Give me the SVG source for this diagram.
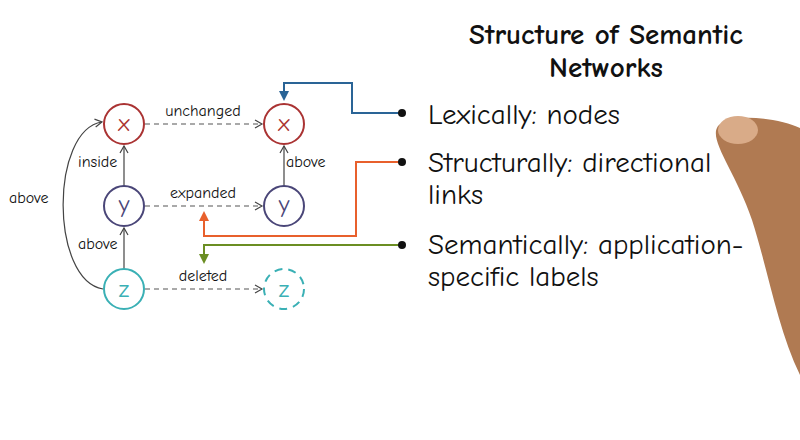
<svg xmlns="http://www.w3.org/2000/svg" width="800" height="440" viewBox="0 0 800 440">
<style>
text{font-family:"Comic Neue","Liberation Sans",sans-serif;fill:#111}
.lbl{font-size:16px}
.big{font-size:29px}
.dash{stroke:#555;stroke-width:1.2;stroke-dasharray:5,4;fill:none}
.solid{stroke:#444;stroke-width:1.2;fill:none}
.node text{font-size:24px;text-anchor:middle}
</style>
<defs>
<marker id="a" markerWidth="10" markerHeight="10" refX="8" refY="5" orient="auto" markerUnits="userSpaceOnUse"><path d="M1,1 L8,5 L1,9" fill="none" stroke="#444" stroke-width="1.2"/></marker>
<marker id="ab" markerWidth="10" markerHeight="10" refX="6" refY="5" orient="auto" markerUnits="userSpaceOnUse"><path d="M0,0 L10,5 L0,10 Z" fill="#2a6496"/></marker>
<marker id="ao" markerWidth="10" markerHeight="10" refX="6" refY="5" orient="auto" markerUnits="userSpaceOnUse"><path d="M0,0 L10,5 L0,10 Z" fill="#e8602c"/></marker>
<marker id="ag" markerWidth="10" markerHeight="10" refX="6" refY="5" orient="auto" markerUnits="userSpaceOnUse"><path d="M0,0 L10,5 L0,10 Z" fill="#6b8e23"/></marker>
</defs>
<rect width="800" height="440" fill="#fff"/>
<path d="M800,128 C780,118 730,112 718,126 C708,140 735,170 752,220 C768,270 778,330 800,375 Z" fill="#b07a52"/>
<ellipse cx="738" cy="130" rx="20" ry="14" fill="#d9ab88"/>
<g id="connectors">
<path class="dash" d="M145,124 H262" marker-end="url(#a)"/>
<path class="dash" d="M145,206 H262" marker-end="url(#a)"/>
<path class="dash" d="M145,289 H262" marker-end="url(#a)"/>
<path class="solid" d="M124,186 V146" marker-end="url(#a)"/>
<path class="solid" d="M124,269 V228" marker-end="url(#a)"/>
<path class="solid" d="M284,186 V146" marker-end="url(#a)"/>
<path class="solid" d="M103,289 C50,280 50,130 102,122" marker-end="url(#a)"/>
<text class="lbl" x="203" y="116" text-anchor="middle">unchanged</text>
<text class="lbl" x="203" y="198" text-anchor="middle">expanded</text>
<text class="lbl" x="203" y="281" text-anchor="middle">deleted</text>
<text class="lbl" x="78" y="167">inside</text>
<text class="lbl" x="78" y="249">above</text>
<text class="lbl" x="286" y="167">above</text>
<text class="lbl" x="9" y="203">above</text>
<path d="M402,113 H352 V83 H284 V97" fill="none" stroke="#2a6496" stroke-width="2" marker-end="url(#ab)"/>
<path d="M402,162 H356 V236 H204 V215" fill="none" stroke="#e8602c" stroke-width="2" marker-end="url(#ao)"/>
<path d="M402,245 H204 V260" fill="none" stroke="#6b8e23" stroke-width="2" marker-end="url(#ag)"/>
</g>
<g id="x1" class="node"><circle cx="124" cy="124" r="20" fill="none" stroke="#a33" stroke-width="2"/><text x="124" y="131" style="fill:#a33">x</text></g>
<g id="y1" class="node"><circle cx="124" cy="206" r="20" fill="none" stroke="#4a4678" stroke-width="2"/><text x="124" y="212" style="fill:#4a4678">y</text></g>
<g id="z1" class="node"><circle cx="124" cy="289" r="20" fill="none" stroke="#3ab0b5" stroke-width="2"/><text x="124" y="297" style="fill:#3ab0b5">z</text></g>
<g id="x2" class="node"><circle cx="284" cy="124" r="20" fill="none" stroke="#a33" stroke-width="2"/><text x="284" y="131" style="fill:#a33">x</text></g>
<g id="y2" class="node"><circle cx="284" cy="206" r="20" fill="none" stroke="#4a4678" stroke-width="2"/><text x="284" y="212" style="fill:#4a4678">y</text></g>
<g id="z2" class="node"><circle cx="284" cy="289" r="20" fill="none" stroke="#3ab0b5" stroke-width="2" stroke-dasharray="8,6"/><text x="284" y="297" style="fill:#3ab0b5">z</text></g>
<g id="text">
<text x="606" y="44" text-anchor="middle" style="font-size:29px;font-weight:bold">Structure of Semantic</text>
<text x="606" y="77" text-anchor="middle" style="font-size:29px;font-weight:bold">Networks</text>
<circle cx="402" cy="113" r="4" fill="#111"/>
<circle cx="402" cy="162" r="4" fill="#111"/>
<circle cx="402" cy="245" r="4" fill="#111"/>
<text class="big" x="428" y="124">Lexically: nodes</text>
<text class="big" x="428" y="172">Structurally: directional</text>
<text class="big" x="428" y="204">links</text>
<text class="big" x="428" y="254">Semantically: application-</text>
<text class="big" x="428" y="286">specific labels</text>
</g>
</svg>
